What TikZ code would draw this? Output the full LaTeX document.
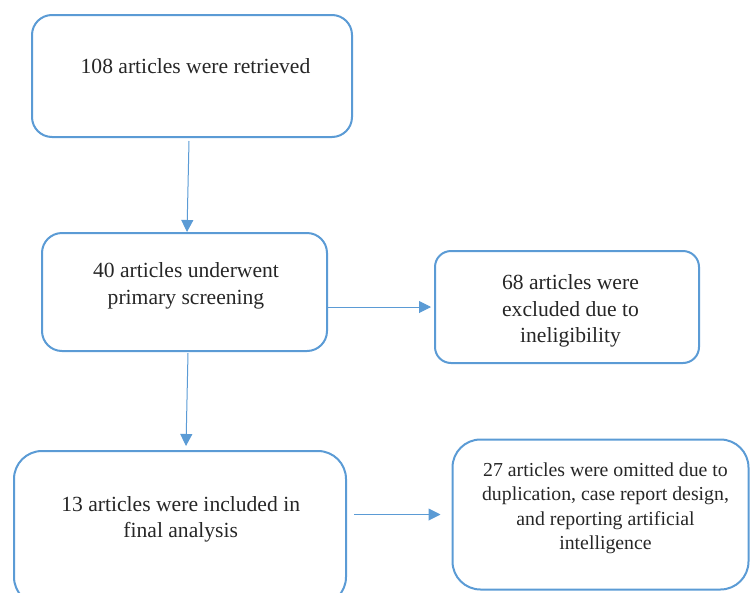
\documentclass[tikz,border=0pt]{standalone}
\usepackage{fontspec}
\setmainfont{Liberation Serif}
\usetikzlibrary{arrows.meta}
\definecolor{boxblue}{HTML}{5B9BD5}
\tikzset{
  flowbox/.style={draw=boxblue, line width=2pt, rounded corners=20pt, inner sep=0pt},
  bigbox/.style={flowbox, rounded corners=28pt},
  boxtext/.style={align=center, inner sep=0pt, anchor=base, text=black!85, font=\fontsize{21.6}{26.3}\selectfont},
  smalltext/.style={boxtext, font=\fontsize{19.8}{24.3}\selectfont},
  flowarrow/.style={draw=boxblue, line width=1pt, -{Triangle[width=12pt,length=12pt]}}
}
\begin{document}
\begin{tikzpicture}[x=1pt,y=1pt]
\useasboundingbox (0,0) rectangle (750,-592);
\node[flowbox, minimum width=320pt, minimum height=122pt] (b1) at (192,-76) {};
\node[flowbox, minimum width=285pt, minimum height=118pt] (b2) at (184.5,-292) {};
\node[flowbox, rounded corners=16pt, minimum width=264pt, minimum height=112pt] (b3) at (567,-307) {};
\node[bigbox, minimum width=332pt, minimum height=154pt] (b4) at (180,-528) {};
\node[bigbox, minimum width=296pt, minimum height=150pt] (b5) at (600.5,-514.5) {};
\node[boxtext] (t1) at (195.5,-73) {108 articles were retrieved};
\node[boxtext] (t2) at (186,-304) {40 articles underwent\\primary screening};
\node[boxtext] (t3) at (570.5,-342.5) {68 articles were\\excluded due to\\ineligibility};
\node[boxtext] (t4) at (180.7,-537.3) {13 articles were included in\\final analysis};
\node[smalltext] (t5) at (605.5,-549.5) {27 articles were omitted due to\\duplication, case report design,\\and reporting artificial\\intelligence};
\draw[flowarrow] ([xshift=-3pt,yshift=-3pt]b1.south) -- ([xshift=2.5pt]b2.north);
\draw[flowarrow] (b2.east |- b3.west) -- ([xshift=-3pt]b3.west);
\draw[flowarrow] ([xshift=3.5pt,yshift=-1pt]b2.south) -- ([xshift=6pt,yshift=4pt]b4.north);
\draw[flowarrow] ([xshift=7pt]b4.east |- b5.west) -- ([xshift=-11pt]b5.west);
\end{tikzpicture}
\end{document}
